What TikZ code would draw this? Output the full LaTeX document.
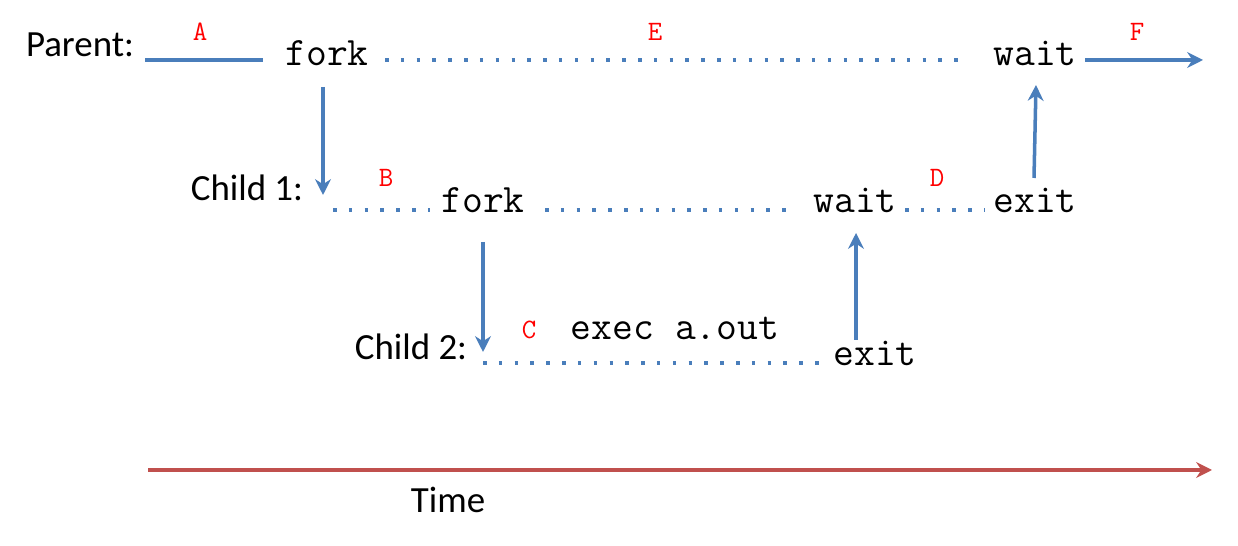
\documentclass[tikz,border=0pt]{standalone}
\usepackage{fontspec}
\setmainfont{Carlito}
\usetikzlibrary{arrows.meta}
\definecolor{flowblue}{RGB}{74,126,187}
\definecolor{timered}{RGB}{192,80,77}
\tikzset{
  lbl/.style={font=\fontsize{21}{24}\selectfont, inner sep=0pt},
  code/.style={font=\ttfamily\fontsize{23}{26}\selectfont, inner sep=0pt},
  tag/.style={font=\ttfamily\fontsize{16}{18}\selectfont, text=red, inner sep=0pt},
  run/.style={flowblue, line width=2pt},
  idle/.style={flowblue, line width=2pt, dash pattern=on 2pt off 7pt},
  call/.style={flowblue, line width=2pt, -{Stealth[length=9pt,width=9pt]}}
}
\begin{document}
\begin{tikzpicture}[x=0.02cm, y=-0.02cm]
            \useasboundingbox (0,0) rectangle (1238,546);
            \node [lbl] (parent) at (80,45) {Parent:};
            \node [lbl] (child1) at (247,188) {Child 1:};
            \node [lbl] (child2) at (411,347) {Child 2:};
            \node [lbl] (time) at (448,500) {Time};
            \node [code] (pfork) at (327,53) {fork};
            \node [code] (pwait) at (1035,53) {wait};
            \node [code] (cfork) at (483,200) {fork};
            \node [code] (cwait) at (855,200) {wait};
            \node [code] (cexit) at (1035,200) {exit};
            \node [code] (exec) at (675,328) {exec a.out};
            \node [code] (gexit) at (875,353) {exit};
            \node [tag] at (200,32) {A};
            \node [tag] at (655,32) {E};
            \node [tag] at (1137,32) {F};
            \node [tag] at (386,178) {B};
            \node [tag] at (937,178) {D};
            \node [tag] at (529,330) {C};
            \coordinate (pstart) at (145,60);
            \coordinate (pend) at (1203,60);
            \coordinate (c1start) at (333,210);
            \coordinate (c2start) at (483,363);
            \coordinate (tstart) at (148,470);
            \coordinate (tend) at (1212,470);
            \draw [run] (pstart) -- (263,60);
            \draw [idle] (385,60) -- (970,60);
            \draw [call] (1085,60) -- (pend);
            \draw [idle] (c1start) -- (430,210);
            \draw [idle] (545,210) -- (790,210);
            \draw [idle] (905,210) -- (985,210);
            \draw [idle] (c2start) -- (825,363);
            \draw [call] (323,87) -- (323,195);
            \draw [call] (1034,178) -- (1036,85);
            \draw [call] (483,242) -- (483,352);
            \draw [call] (856,340) -- (856,233);
            \draw [timered, line width=2pt, -{Stealth[length=9pt,width=9pt]}] (tstart) -- (tend);
\end{tikzpicture}
\end{document}
